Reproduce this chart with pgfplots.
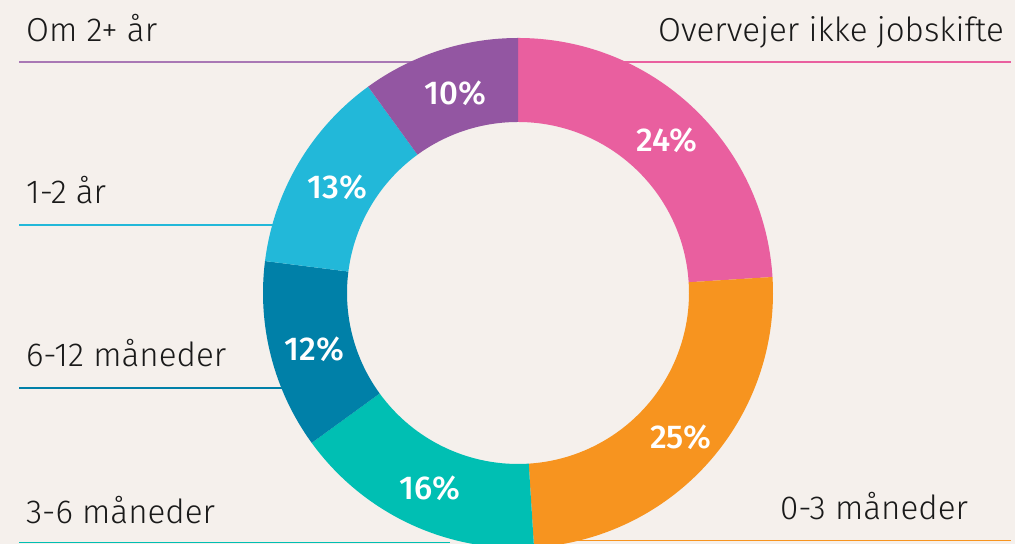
\documentclass[border=0pt]{standalone}
\usepackage{pgfplots}
\usepackage{pgfplotstable}
\pgfplotsset{compat=1.18}
\usepackage{fontspec}
\setmainfont{Fira Sans}[UprightFont={* Light}, BoldFont={* Medium}]
\definecolor{bg}{HTML}{F5F0EC}
\definecolor{cpink}{HTML}{E95F9F}
\definecolor{corange}{HTML}{F7941F}
\definecolor{cteal}{HTML}{00BFB3}
\definecolor{cdblue}{HTML}{0080A8}
\definecolor{ccyan}{HTML}{22B8D9}
\definecolor{cpurple}{HTML}{9356A2}
\definecolor{ctext}{HTML}{1A1A1A}

\pgfplotstableread{
val col
24 cpink
25 corange
16 cteal
12 cdblue
13 ccyan
10 cpurple
}\donut

\begin{document}
\begin{tikzpicture}
\begin{axis}[
  x=0.5pt, y=0.5pt,
  xmin=0, xmax=1015, ymin=0, ymax=544,
  hide axis, clip=true,
]
\fill[bg] (axis cs:0,0) rectangle (axis cs:1015,544);
% label lines
\draw[cpurple!80, line width=0.6pt] (axis cs:19,482) -- (axis cs:430,482);
\draw[cpink, line width=0.6pt] (axis cs:600,482) -- (axis cs:1011,482);
\draw[ccyan, line width=0.6pt] (axis cs:19,319) -- (axis cs:300,319);
\draw[cdblue, line width=0.6pt] (axis cs:19,156) -- (axis cs:300,156);
\draw[cteal, line width=0.6pt] (axis cs:19,1.5) -- (axis cs:450,1.5);
\draw[corange, line width=0.6pt] (axis cs:560,3.5) -- (axis cs:1011,3.5);
% donut
\xdef\cum{0}
\foreach \i in {0,...,5}{
  \pgfplotstablegetelem{\i}{val}\of\donut \let\v\pgfplotsretval
  \pgfplotstablegetelem{\i}{col}\of\donut \let\c\pgfplotsretval
  \pgfmathsetmacro\a{90-3.6*\cum}
  \pgfmathsetmacro\b{90-3.6*(\cum+\v)}
  \pgfmathsetmacro\m{(\a+\b)/2}
  \pgfmathsetmacro\xo{518+255*cos(\a)}
  \pgfmathsetmacro\yo{251+255*sin(\a)}
  \pgfmathsetmacro\xi{518+171*cos(\b)}
  \pgfmathsetmacro\yi{251+171*sin(\b)}
  \pgfmathsetmacro\xm{521+213*cos(\m)}
  \pgfmathsetmacro\ym{248+213*sin(\m)}
  \pgfmathsetmacro\newcum{\cum+\v}
  \xdef\cum{\newcum}
  \edef\tmp{\noexpand\fill[\c] (axis cs:\xo,\yo) arc[start angle=\a, end angle=\b, radius=127.5pt] -- (axis cs:\xi,\yi) arc[start angle=\b, end angle=\a, radius=85.5pt] -- cycle;
    \noexpand\node[white, font=\noexpand\fontsize{16.5}{19}\noexpand\selectfont\noexpand\bfseries] at (axis cs:\xm,\ym) {\v\noexpand\%};}
  \tmp
}
% category labels
\node[ctext, anchor=base west, font=\fontsize{16.6}{20}\selectfont] at (axis cs:19,502) {Om 2+ år};
\node[ctext, anchor=base east, font=\fontsize{16.6}{20}\selectfont] at (axis cs:1011,502) {Overvejer ikke jobskifte};
\node[ctext, anchor=base west, font=\fontsize{16.6}{20}\selectfont] at (axis cs:19,340) {1-2 år};
\node[ctext, anchor=base west, font=\fontsize{16.6}{20}\selectfont] at (axis cs:19,177) {6-12 måneder};
\node[ctext, anchor=base west, font=\fontsize{16.6}{20}\selectfont] at (axis cs:19,20) {3-6 måneder};
\node[ctext, anchor=base east, font=\fontsize{16.6}{20}\selectfont] at (axis cs:975,24) {0-3 måneder};
\end{axis}
\end{tikzpicture}
\end{document}
